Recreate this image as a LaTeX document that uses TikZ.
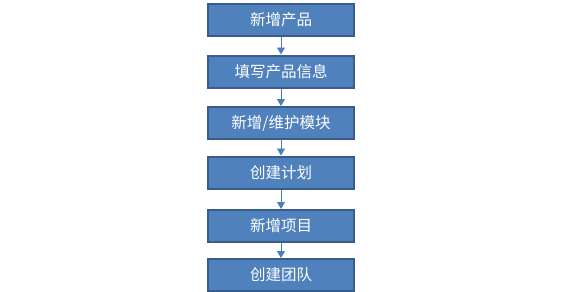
\documentclass[tikz,border=0pt]{standalone}
\usepackage{fontspec}
\newfontfamily\cjk{Noto Sans CJK SC}
\usetikzlibrary{arrows.meta}
\definecolor{boxfill}{RGB}{79,129,189}
\definecolor{boxline}{RGB}{56,93,138}
\definecolor{arrowline}{RGB}{74,126,187}
\tikzset{
  stepbox/.style={draw=boxline, line width=2pt, fill=boxfill, minimum width=146pt, minimum height=32pt,
    inner sep=0pt, text=white, font=\cjk\fontsize{15.5}{17}\selectfont},
  flowarrow/.style={draw=arrowline, line width=0.9pt, -{Triangle[width=8pt,length=7pt]}}
}
\begin{document}
\begin{tikzpicture}[x=1pt,y=-1pt]
  \useasboundingbox (0,0) rectangle (576,292);
  % Schritte
  \node[stepbox] (s1) at (281,19.5) {新增产品};
  \node[stepbox] (s2) at (281,71.5) {填写产品信息};
  \node[stepbox] (s3) at (281,123) {新增/维护模块};
  \node[stepbox] (s4) at (281,172.5) {创建计划};
  \node[stepbox] (s5) at (281,226) {新增项目};
  \node[stepbox] (s6) at (281,275) {创建团队};
  % Pfeile
  \foreach \a/\b in {s1/s2,s2/s3,s3/s4,s4/s5,s5/s6}
    \draw[flowarrow] (\a) -- (\b);
\end{tikzpicture}
\end{document}
